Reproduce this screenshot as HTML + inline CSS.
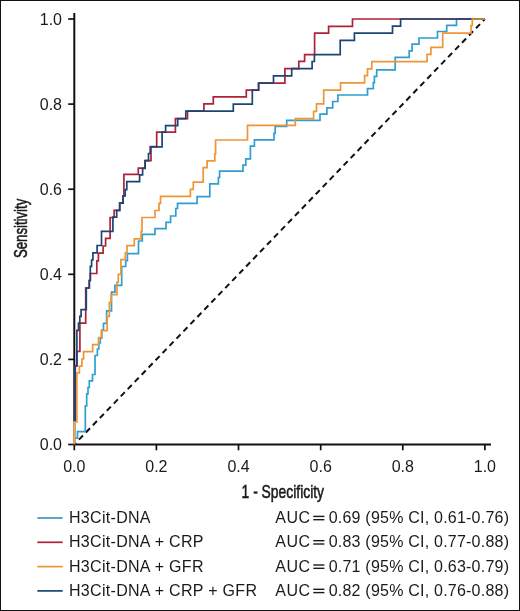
<!DOCTYPE html>
<html><head><meta charset="utf-8"><style>
html,body{margin:0;padding:0;background:#fff;}
svg{display:block;will-change:transform;}
.t{font-family:"Liberation Sans",sans-serif;font-size:16px;fill:#1a1a1a;}
.lg{font-family:"Liberation Sans",sans-serif;font-size:16px;fill:#1a1a1a;letter-spacing:0.2px;}
.ax{font-family:"Liberation Sans",sans-serif;font-size:18.5px;fill:#1a1a1a;stroke:#1a1a1a;stroke-width:0.55px;}
</style></head><body>
<svg width="520" height="611" viewBox="0 0 520 611">
<rect x="0.5" y="0.5" width="519" height="610" fill="none" stroke="#111" stroke-width="1"/>
<line x1="74.3" y1="444.5" x2="484.9" y2="19.0" stroke="#111" stroke-width="2" stroke-dasharray="5.8 4.23" stroke-dashoffset="3.3"/>
<line x1="74.3" y1="444.5" x2="491" y2="444.5" stroke="#111" stroke-width="2"/>
<line x1="74.3" y1="444.5" x2="74.3" y2="13" stroke="#111" stroke-width="2"/>
<line x1="74.3" y1="444.5" x2="74.3" y2="450.3" stroke="#111" stroke-width="1.7"/>
<line x1="68.2" y1="444.5" x2="74.3" y2="444.5" stroke="#111" stroke-width="1.7"/>
<text x="74.3" y="471.5" text-anchor="middle" class="t">0.0</text>
<text x="62" y="450.3" text-anchor="end" class="t">0.0</text>
<line x1="156.4" y1="444.5" x2="156.4" y2="450.3" stroke="#111" stroke-width="1.7"/>
<line x1="68.2" y1="359.4" x2="74.3" y2="359.4" stroke="#111" stroke-width="1.7"/>
<text x="156.4" y="471.5" text-anchor="middle" class="t">0.2</text>
<text x="62" y="365.2" text-anchor="end" class="t">0.2</text>
<line x1="238.5" y1="444.5" x2="238.5" y2="450.3" stroke="#111" stroke-width="1.7"/>
<line x1="68.2" y1="274.3" x2="74.3" y2="274.3" stroke="#111" stroke-width="1.7"/>
<text x="238.5" y="471.5" text-anchor="middle" class="t">0.4</text>
<text x="62" y="280.1" text-anchor="end" class="t">0.4</text>
<line x1="320.7" y1="444.5" x2="320.7" y2="450.3" stroke="#111" stroke-width="1.7"/>
<line x1="68.2" y1="189.2" x2="74.3" y2="189.2" stroke="#111" stroke-width="1.7"/>
<text x="320.7" y="471.5" text-anchor="middle" class="t">0.6</text>
<text x="62" y="195.0" text-anchor="end" class="t">0.6</text>
<line x1="402.8" y1="444.5" x2="402.8" y2="450.3" stroke="#111" stroke-width="1.7"/>
<line x1="68.2" y1="104.1" x2="74.3" y2="104.1" stroke="#111" stroke-width="1.7"/>
<text x="402.8" y="471.5" text-anchor="middle" class="t">0.8</text>
<text x="62" y="109.9" text-anchor="end" class="t">0.8</text>
<line x1="484.9" y1="444.5" x2="484.9" y2="450.3" stroke="#111" stroke-width="1.7"/>
<line x1="68.2" y1="19.0" x2="74.3" y2="19.0" stroke="#111" stroke-width="1.7"/>
<text x="484.9" y="471.5" text-anchor="middle" class="t">1.0</text>
<text x="62" y="24.8" text-anchor="end" class="t">1.0</text>
<polyline points="74.3,444.3 74.3,438.2 77.5,438.2 77.5,431.6 85.3,431.6 85.3,405.9 86.7,405.9 86.7,393.8 88.0,393.8 88.0,387.5 89.3,387.5 89.3,380.9 92.5,380.9 92.5,374.5 95.0,374.5 95.0,355.5 97.4,355.5 97.4,349.0 98.8,349.0 98.8,343.0 100.3,343.0 100.3,338.2 101.8,338.2 101.8,330.0 103.5,330.0 103.5,323.4 106.6,323.4 106.6,310.9 111.5,310.9 111.5,292.1 114.9,292.1 114.9,285.3 121.7,285.3 121.7,266.5 125.7,266.5 125.7,260.6 127.4,260.6 127.4,253.7 138.5,253.7 138.5,241.0 142.3,241.0 142.3,234.4 155.0,234.4 155.0,228.6 166.0,228.6 166.0,222.3 170.6,222.3 170.6,216.0 175.8,216.0 175.8,208.5 177.5,208.5 177.5,203.3 197.1,203.3 197.1,196.7 209.8,196.7 209.8,183.8 218.4,183.8 218.4,177.5 219.6,177.5 219.6,171.1 243.0,171.1 243.0,165.2 245.8,165.2 245.8,158.8 250.4,158.8 250.4,146.1 254.4,146.1 254.4,139.8 274.0,139.8 274.0,133.4 275.2,133.4 275.2,126.5 286.7,126.5 286.7,120.3 320.0,120.3 320.0,114.2 326.9,114.2 326.9,107.9 332.7,107.9 332.7,101.5 337.9,101.5 337.9,95.0 367.5,95.0 367.5,88.7 373.3,88.7 373.3,82.7 374.4,82.7 374.4,76.3 376.7,76.3 376.7,69.8 395.2,69.8 395.2,57.4 409.2,57.4 409.2,50.9 412.1,50.9 412.1,44.2 419.0,44.2 419.0,38.0 437.5,38.0 437.5,31.5 446.7,31.5 446.7,25.3 456.5,25.3 456.5,19.0 484.9,19.0" fill="none" stroke="#2f9fd0" stroke-width="1.7" stroke-linejoin="miter"/>
<polyline points="74.3,444.3 74.3,422.0 75.2,422.0 75.2,366.0 76.9,366.0 76.9,351.3 79.9,351.3 79.9,323.2 85.7,323.2 85.7,288.0 89.3,288.0 89.3,280.5 90.3,280.5 90.3,273.5 96.8,273.5 96.8,260.9 98.4,260.9 98.4,253.2 103.1,253.2 103.1,246.0 105.6,246.0 105.6,238.4 110.1,238.4 110.1,217.5 114.1,217.5 114.1,210.3 119.7,210.3 119.7,203.1 123.1,203.1 123.1,195.8 123.9,195.8 123.9,174.3 138.3,174.3 138.3,168.2 145.1,168.2 145.1,160.7 151.0,160.7 151.0,146.7 156.7,146.7 156.7,132.1 175.4,132.1 175.4,118.6 187.5,118.6 187.5,111.1 203.9,111.1 203.9,103.9 213.3,103.9 213.3,96.9 246.3,96.9 246.3,90.2 258.6,90.2 258.6,83.1 284.9,83.1 284.9,68.6 298.8,68.6 298.8,61.4 304.6,61.4 304.6,54.7 314.6,54.7 314.6,33.1 328.6,33.1 328.6,26.4 352.5,26.4 352.5,19.0 484.9,19.0" fill="none" stroke="#ae2239" stroke-width="1.7" stroke-linejoin="miter"/>
<polyline points="74.3,444.3 74.3,422.0 75.2,422.0 75.2,366.0 76.9,366.0 76.9,330.4 78.5,330.4 78.5,323.2 79.8,323.2 79.8,316.4 81.1,316.4 81.1,309.6 86.3,309.6 86.3,288.0 89.3,288.0 89.3,280.5 90.3,280.5 90.3,266.4 91.6,266.4 91.6,260.0 92.9,260.0 92.9,252.8 97.1,252.8 97.1,245.5 101.5,245.5 101.5,231.3 112.9,231.3 112.9,217.1 116.7,217.1 116.7,210.3 119.7,210.3 119.7,203.1 123.1,203.1 123.1,195.8 125.2,195.8 125.2,189.7 126.8,189.7 126.8,181.6 139.6,181.6 139.6,174.8 142.6,174.8 142.6,168.4 145.1,168.4 145.1,160.7 148.5,160.7 148.5,153.5 150.2,153.5 150.2,146.8 162.1,146.8 162.1,132.1 165.6,132.1 165.6,125.6 177.7,125.6 177.7,118.6 185.8,118.6 185.8,111.1 233.3,111.1 233.3,104.1 252.3,104.1 252.3,90.2 258.6,90.2 258.6,83.1 273.5,83.1 273.5,75.9 291.7,75.9 291.7,68.6 312.1,68.6 312.1,61.5 314.4,61.5 314.4,54.7 340.2,54.7 340.2,40.3 354.4,40.3 354.4,33.2 392.5,33.2 392.5,26.2 400.6,26.2 400.6,19.0 484.9,19.0" fill="none" stroke="#1d4574" stroke-width="1.7" stroke-linejoin="miter"/>
<polyline points="74.3,444.3 74.3,422.0 76.9,422.0 76.9,372.8 79.4,372.8 79.4,366.1 81.9,366.1 81.9,359.0 83.6,359.0 83.6,351.6 92.7,351.6 92.7,344.7 98.5,344.7 98.5,337.5 101.3,337.5 101.3,330.6 107.1,330.6 107.1,316.4 109.4,316.4 109.4,302.3 111.1,302.3 111.1,294.7 117.0,294.7 117.0,282.3 118.3,282.3 118.3,274.3 120.9,274.3 120.9,259.7 125.3,259.7 125.3,252.9 127.0,252.9 127.0,245.7 134.3,245.7 134.3,238.9 141.1,238.9 141.1,231.6 142.0,231.6 142.0,217.5 155.0,217.5 155.0,210.5 159.0,210.5 159.0,203.3 160.5,203.3 160.5,196.3 190.4,196.3 190.4,189.4 193.3,189.4 193.3,182.1 203.2,182.1 203.2,167.7 207.1,167.7 207.1,160.8 214.8,160.8 214.8,153.8 215.6,153.8 215.6,140.0 247.5,140.0 247.5,125.3 295.3,125.3 295.3,118.7 313.6,118.7 313.6,111.3 316.5,111.3 316.5,103.8 323.7,103.8 323.7,90.2 340.5,90.2 340.5,82.8 364.6,82.8 364.6,75.7 367.5,75.7 367.5,68.8 371.8,68.8 371.8,61.6 427.1,61.6 427.1,54.4 430.9,54.4 430.9,47.4 442.7,47.4 442.7,33.1 471.0,33.1 471.0,25.5 472.3,25.5 472.3,19.0 484.9,19.0" fill="none" stroke="#ee9537" stroke-width="1.7" stroke-linejoin="miter"/>
<line x1="74.5" y1="443.4" x2="74.5" y2="421.5" stroke="#e3aa6c" stroke-width="2.4"/>
<text x="0" y="0" class="ax" transform="translate(282.8,497.5) scale(0.75,1)" text-anchor="middle">1 - Specificity</text>
<text x="0" y="0" class="ax" transform="translate(27.2,228.4) rotate(-90) scale(0.713,1)" text-anchor="middle">Sensitivity</text>
<line x1="37.3" y1="518.0" x2="62.7" y2="518.0" stroke="#3d96c4" stroke-width="1.7"/>
<text x="69" y="523.0" class="lg" style="letter-spacing:0.3px">H3Cit-DNA</text>
<text x="275.3" y="523.0" class="lg" style="letter-spacing:0.5px">AUC</text>
<line x1="313.3" y1="516.40" x2="324.4" y2="516.40" stroke="#1a1a1a" stroke-width="1.4"/>
<line x1="313.3" y1="519.70" x2="324.4" y2="519.70" stroke="#1a1a1a" stroke-width="1.4"/>
<text x="328.7" y="523.0" class="lg" style="letter-spacing:0.22px">0.69 (95% CI, 0.61-0.76)</text>
<line x1="37.3" y1="542.3" x2="62.7" y2="542.3" stroke="#ae2239" stroke-width="1.7"/>
<text x="69" y="547.3" class="lg" style="letter-spacing:0.3px">H3Cit-DNA + CRP</text>
<text x="275.3" y="547.3" class="lg" style="letter-spacing:0.5px">AUC</text>
<line x1="313.3" y1="540.70" x2="324.4" y2="540.70" stroke="#1a1a1a" stroke-width="1.4"/>
<line x1="313.3" y1="544.00" x2="324.4" y2="544.00" stroke="#1a1a1a" stroke-width="1.4"/>
<text x="328.7" y="547.3" class="lg" style="letter-spacing:0.22px">0.83 (95% CI, 0.77-0.88)</text>
<line x1="37.3" y1="566.6" x2="62.7" y2="566.6" stroke="#ee9537" stroke-width="1.7"/>
<text x="69" y="571.6" class="lg" style="letter-spacing:0.3px">H3Cit-DNA + GFR</text>
<text x="275.3" y="571.6" class="lg" style="letter-spacing:0.5px">AUC</text>
<line x1="313.3" y1="565.00" x2="324.4" y2="565.00" stroke="#1a1a1a" stroke-width="1.4"/>
<line x1="313.3" y1="568.30" x2="324.4" y2="568.30" stroke="#1a1a1a" stroke-width="1.4"/>
<text x="328.7" y="571.6" class="lg" style="letter-spacing:0.22px">0.71 (95% CI, 0.63-0.79)</text>
<line x1="37.3" y1="590.9" x2="62.7" y2="590.9" stroke="#1d4574" stroke-width="1.7"/>
<text x="69" y="595.9" class="lg" style="letter-spacing:0.3px">H3Cit-DNA + CRP + GFR</text>
<text x="275.3" y="595.9" class="lg" style="letter-spacing:0.5px">AUC</text>
<line x1="313.3" y1="589.30" x2="324.4" y2="589.30" stroke="#1a1a1a" stroke-width="1.4"/>
<line x1="313.3" y1="592.60" x2="324.4" y2="592.60" stroke="#1a1a1a" stroke-width="1.4"/>
<text x="328.7" y="595.9" class="lg" style="letter-spacing:0.22px">0.82 (95% CI, 0.76-0.88)</text>
</svg>
</body></html>
